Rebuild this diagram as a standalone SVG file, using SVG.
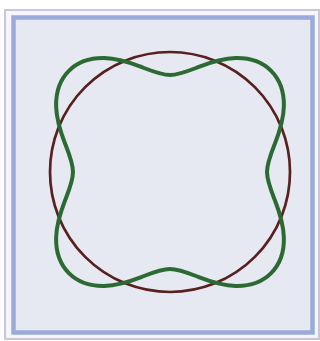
<svg xmlns="http://www.w3.org/2000/svg" width="320" height="341" viewBox="0 0 320 341">
  <style>
    .outer { fill: #f6f6fa; stroke: #c8c6d8; stroke-width: 2; }
    .band { fill: #e6e8f2; stroke: #9aabd9; stroke-width: 4.5; }
    .circle { fill: none; stroke: #58201f; stroke-width: 2.7; }
    .wave { fill: none; stroke: #2c6a33; stroke-width: 4; stroke-linejoin: round; }
  </style>
  <rect x="0" y="0" width="320" height="341" fill="#ffffff"/>
  <g id="frame">
    <rect class="outer" x="5" y="10" width="314" height="329"/>
    <rect class="band" x="13.5" y="17.5" width="299" height="315"/>
  </g>
  <g id="circle">
    <circle class="circle" cx="170" cy="172" r="120"/>
  </g>
  <g id="wave">
    <path class="wave" transform="translate(170,172)" d="M 0,-97
      C 8.465,-97 17.135,-100.534 28.08,-104.8
      C 39.025,-109.066 52.335,-113.596 65.75,-113.88
      C 79.165,-114.164 92.295,-109.945 101.12,-101.12
      C 109.945,-92.295 114.164,-79.165 113.88,-65.75
      C 113.596,-52.335 109.066,-39.025 104.8,-28.08
      C 100.534,-17.135 97,-8.465 97,0
      C 97,8.465 100.534,17.135 104.8,28.08
      C 109.066,39.025 113.596,52.335 113.88,65.75
      C 114.164,79.165 109.945,92.295 101.12,101.12
      C 92.295,109.945 79.165,114.164 65.75,113.88
      C 52.335,113.596 39.025,109.066 28.08,104.8
      C 17.135,100.534 8.465,97 0,97
      C -8.465,97 -17.135,100.534 -28.08,104.8
      C -39.025,109.066 -52.335,113.596 -65.75,113.88
      C -79.165,114.164 -92.295,109.945 -101.12,101.12
      C -109.945,92.295 -114.164,79.165 -113.88,65.75
      C -113.596,52.335 -109.066,39.025 -104.8,28.08
      C -100.534,17.135 -97,8.465 -97,0
      C -97,-8.465 -100.534,-17.135 -104.8,-28.08
      C -109.066,-39.025 -113.596,-52.335 -113.88,-65.75
      C -114.164,-79.165 -109.945,-92.295 -101.12,-101.12
      C -92.295,-109.945 -79.165,-114.164 -65.75,-113.88
      C -52.335,-113.596 -39.025,-109.066 -28.08,-104.8
      C -17.135,-100.534 -8.465,-97 0,-97 Z"/>
  </g>
</svg>
